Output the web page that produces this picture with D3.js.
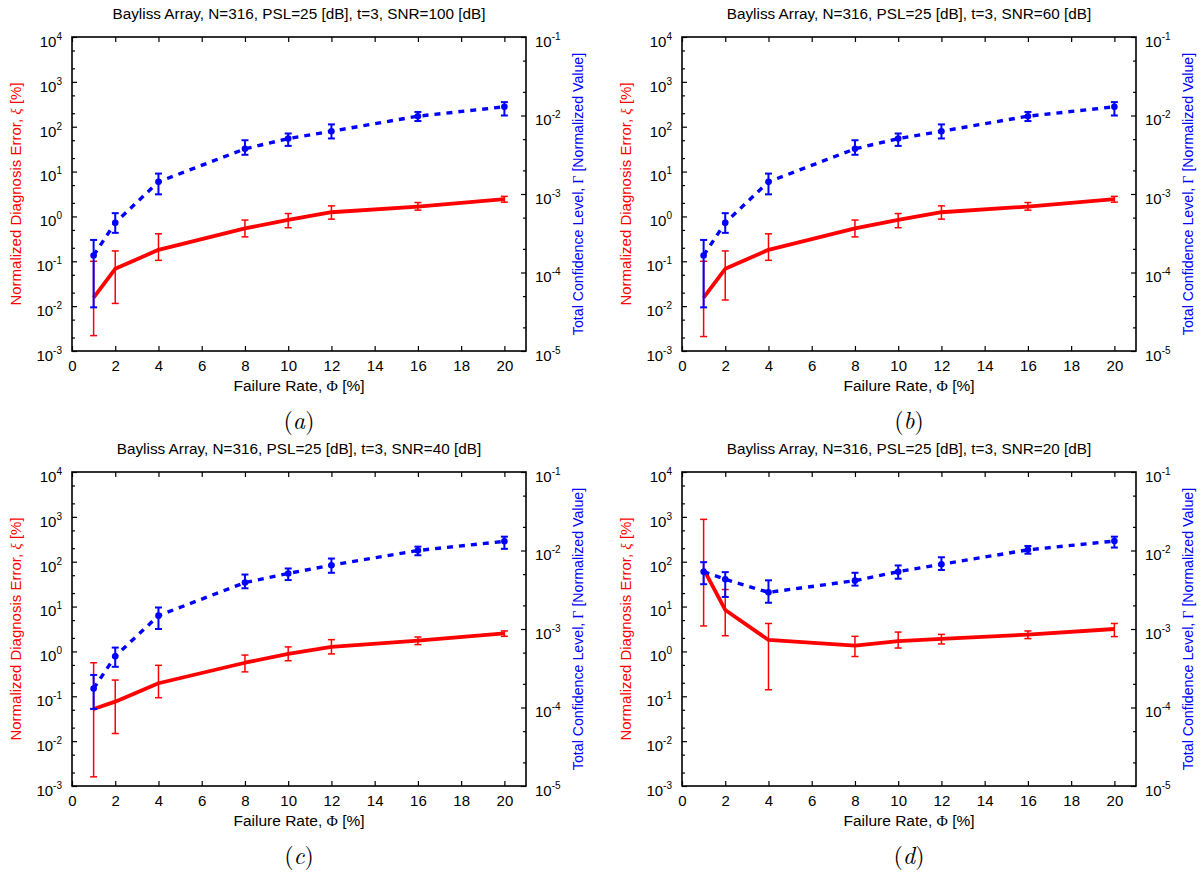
<!DOCTYPE html>
<html>
<head>
<meta charset="utf-8">
<script src="https://cdn.jsdelivr.net/npm/d3@7"></script>
<style>
body { margin: 0; background: #fff; }
svg { display: block; font-family: "Liberation Sans", Arial, sans-serif; }
</style>
</head>
<body>
<div class="container"></div>
<script>
// failure rate (x) values shared by all four panels
const failureRate = [1, 2, 4, 8, 10, 12, 16, 20];
const snrLevels = [100, 60, 40, 20];
const panelLetters = ["a", "b", "c", "d"];
const xTicks = [0, 2, 4, 6, 8, 10, 12, 14, 16, 18, 20];
const xiExponents = [-3, -2, -1, 0, 1, 2, 3, 4];
const gammaExponents = [-5, -4, -3, -2, -1];

// normalized diagnosis error xi [%], one row per panel
const xiMean = [
    [0.0155, 0.068, 0.18, 0.54, 0.84, 1.24, 1.66, 2.43],
    [0.0155, 0.068, 0.18, 0.54, 0.84, 1.24, 1.66, 2.43],
    [0.052, 0.076, 0.195, 0.56, 0.88, 1.26, 1.74, 2.54],
    [68, 8.4, 1.8, 1.35, 1.7, 1.9, 2.37, 3.16]
];
const xiLow = [
    [0.0022, 0.0115, 0.105, 0.35, 0.56, 0.87, 1.38, 2.08],
    [0.0021, 0.0137, 0.105, 0.35, 0.56, 0.87, 1.38, 2.08],
    [0.0016, 0.0148, 0.093, 0.35, 0.62, 0.88, 1.42, 2.17],
    [3.7, 2.24, 0.14, 0.77, 1.19, 1.47, 1.93, 2.14]
];
const xiHigh = [
    [0.1, 0.17, 0.41, 0.83, 1.16, 1.72, 2.04, 2.8],
    [0.1, 0.17, 0.41, 0.83, 1.16, 1.72, 2.04, 2.8],
    [0.56, 0.23, 0.49, 0.83, 1.26, 1.83, 2.1, 2.86],
    [880, 24, 4.2, 2.17, 2.7, 2.4, 2.86, 4.2]
];

// total confidence level gamma [normalized], one row per panel
const gammaMean = [
    [1.65e-4, 4.3e-4, 1.43e-3, 3.76e-3, 5.08e-3, 6.3e-3, 9.8e-3, 1.29e-2],
    [1.65e-4, 4.3e-4, 1.43e-3, 3.76e-3, 5.08e-3, 6.3e-3, 9.8e-3, 1.29e-2],
    [1.74e-4, 4.5e-4, 1.48e-3, 3.9e-3, 5.1e-3, 6.5e-3, 1.0e-2, 1.31e-2],
    [5.37e-3, 4.3e-3, 2.93e-3, 4.13e-3, 5.37e-3, 6.67e-3, 1.02e-2, 1.32e-2]
];
const gammaLow = [
    [3.6e-5, 3.2e-4, 9.9e-4, 3.16e-3, 4.1e-3, 5.1e-3, 8.5e-3, 1.0e-2],
    [3.6e-5, 3.2e-4, 9.9e-4, 3.16e-3, 4.1e-3, 5.1e-3, 8.5e-3, 1.0e-2],
    [9.6e-5, 3.3e-4, 1.0e-3, 3.3e-3, 4.2e-3, 5.2e-3, 8.7e-3, 1.05e-2],
    [3.72e-3, 2.56e-3, 2.16e-3, 3.57e-3, 4.37e-3, 5.65e-3, 9.1e-3, 1.09e-2]
];
const gammaHigh = [
    [2.6e-4, 5.7e-4, 1.82e-3, 4.84e-3, 5.9e-3, 7.7e-3, 1.11e-2, 1.48e-2],
    [2.6e-4, 5.7e-4, 1.82e-3, 4.84e-3, 5.9e-3, 7.7e-3, 1.11e-2, 1.48e-2],
    [2.6e-4, 5.8e-4, 1.88e-3, 4.94e-3, 5.9e-3, 7.9e-3, 1.12e-2, 1.5e-2],
    [7.1e-3, 5.3e-3, 4.17e-3, 5.2e-3, 6.45e-3, 8.2e-3, 1.14e-2, 1.5e-2]
];

var W = 1204, H = 881;
var plotW = 454, plotH = 314;
var origins = [[72, 37], [682, 37], [72, 472], [682, 472]];

var svg = d3.select(".container").append("svg")
    .attr("width", W)
    .attr("height", H);

function minorTicks(exps) {
    var out = [];
    exps.slice(0, -1).forEach(function (e) {
        out.push(2 * Math.pow(10, e), 5 * Math.pow(10, e));
    });
    return out;
}

// turn "10" labels into 10 with a superscript exponent
function supLabels(sel) {
    sel.selectAll(".tick text").each(function (d) {
        var t = d3.select(this);
        var e = Math.round(Math.log10(d));
        t.text(null);
        t.append("tspan").text("10");
        t.append("tspan").attr("dy", -7).attr("font-size", 10).text(e);
    });
}

function drawPanel(p) {
    var ox = origins[p][0], oy = origins[p][1];
    var g = svg.append("g").attr("transform", "translate(" + ox + "," + oy + ")");

    var x = d3.scaleLinear().domain([0, 21]).range([0, plotW]);
    var yXi = d3.scaleLog().domain([1e-3, 1e4]).range([plotH, 0]);
    var yGamma = d3.scaleLog().domain([1e-5, 1e-1]).range([plotH, 0]);

    // x axis, bottom and mirrored top
    var xb = g.append("g").attr("transform", "translate(0," + plotH + ")")
        .call(d3.axisBottom(x).tickValues(xTicks).tickSizeInner(-5).tickSizeOuter(0).tickPadding(9).tickFormat(d3.format("d")));
    g.append("g")
        .call(d3.axisTop(x).tickValues(xTicks).tickSizeInner(-5).tickSizeOuter(0).tickFormat(""));

    // left log axis (xi)
    g.append("g").call(d3.axisLeft(yXi).tickValues(minorTicks(xiExponents)).tickSizeInner(-3).tickSizeOuter(0).tickFormat(""));
    var yl = g.append("g").call(d3.axisLeft(yXi).tickValues(xiExponents.map(function (e) { return Math.pow(10, e); }))
        .tickSizeInner(-5).tickSizeOuter(0).tickPadding(10));
    supLabels(yl);

    // right log axis (gamma)
    var rg = g.append("g").attr("transform", "translate(" + plotW + ",0)");
    rg.append("g").call(d3.axisRight(yGamma).tickValues(minorTicks(gammaExponents)).tickSizeInner(-3).tickSizeOuter(0).tickFormat(""));
    var yr = rg.append("g").call(d3.axisRight(yGamma).tickValues(gammaExponents.map(function (e) { return Math.pow(10, e); }))
        .tickSizeInner(-5).tickSizeOuter(0).tickPadding(9));
    supLabels(yr);

    g.selectAll(".domain").remove();
    g.selectAll(".tick line").attr("stroke", "#000").attr("stroke-width", 1.2);
    g.selectAll(".tick text").attr("fill", "#000").attr("font-size", 15)
        .attr("font-family", "'Liberation Sans', Arial, sans-serif");
    yl.selectAll(".tick text").attr("dy", "0.62em");
    yr.selectAll(".tick text").attr("dy", "0.62em");
    xb.selectAll(".tick text").attr("dy", "0.71em");

    // frame
    g.append("rect")
        .attr("width", plotW).attr("height", plotH)
        .attr("fill", "none").attr("stroke", "#000").attr("stroke-width", 1.6);

    var pts = failureRate.map(function (f, i) {
        return {
            x: f,
            xi: xiMean[p][i], xiLo: xiLow[p][i], xiHi: xiHigh[p][i],
            ga: gammaMean[p][i], gaLo: gammaLow[p][i], gaHi: gammaHigh[p][i]
        };
    });

    // xi series: red solid line with error bars
    var xiLine = d3.line()
        .x(function (d) { return x(d.x); })
        .y(function (d) { return yXi(d.xi); });
    var red = g.append("g");
    red.selectAll("line.bar").data(pts).enter().append("line")
        .attr("x1", function (d) { return x(d.x); }).attr("x2", function (d) { return x(d.x); })
        .attr("y1", function (d) { return yXi(d.xiLo); }).attr("y2", function (d) { return yXi(d.xiHi); })
        .attr("stroke", "#f00").attr("stroke-width", 1.5);
    ["xiLo", "xiHi"].forEach(function (k) {
        red.selectAll("line." + k).data(pts).enter().append("line")
            .attr("x1", function (d) { return x(d.x) - 3.5; }).attr("x2", function (d) { return x(d.x) + 3.5; })
            .attr("y1", function (d) { return yXi(d[k]); }).attr("y2", function (d) { return yXi(d[k]); })
            .attr("stroke", "#f00").attr("stroke-width", 1.5);
    });
    red.append("path").datum(pts)
        .attr("d", xiLine)
        .attr("fill", "none").attr("stroke", "#f00").attr("stroke-width", 3.8)
        .attr("stroke-linejoin", "round");

    // gamma series: blue dashed line with error bars and dots
    var gaLine = d3.line()
        .x(function (d) { return x(d.x); })
        .y(function (d) { return yGamma(d.ga); });
    var blue = g.append("g");
    blue.append("path").datum(pts)
        .attr("d", gaLine)
        .attr("fill", "none").attr("stroke", "#00f").attr("stroke-width", 3.4)
        .attr("stroke-dasharray", "6,6");
    blue.selectAll("line.bar").data(pts).enter().append("line")
        .attr("x1", function (d) { return x(d.x); }).attr("x2", function (d) { return x(d.x); })
        .attr("y1", function (d) { return yGamma(d.gaLo); }).attr("y2", function (d) { return yGamma(d.gaHi); })
        .attr("stroke", "#00f").attr("stroke-width", 2);
    ["gaLo", "gaHi"].forEach(function (k) {
        blue.selectAll("line." + k).data(pts).enter().append("line")
            .attr("x1", function (d) { return x(d.x) - 3.5; }).attr("x2", function (d) { return x(d.x) + 3.5; })
            .attr("y1", function (d) { return yGamma(d[k]); }).attr("y2", function (d) { return yGamma(d[k]); })
            .attr("stroke", "#00f").attr("stroke-width", 2);
    });
    blue.selectAll("circle").data(pts).enter().append("circle")
        .attr("cx", function (d) { return x(d.x); })
        .attr("cy", function (d) { return yGamma(d.ga); })
        .attr("r", 3.3).attr("fill", "#00f");

    // texts
    g.append("text")
        .attr("x", plotW / 2).attr("y", -18)
        .attr("text-anchor", "middle").attr("font-size", 15.3)
        .text("Bayliss Array, N=316, PSL=25 [dB], t=3, SNR=" + snrLevels[p] + " [dB]");

    var xt = g.append("text")
        .attr("x", plotW / 2).attr("y", plotH + 40)
        .attr("text-anchor", "middle").attr("font-size", 15.5);
    xt.append("tspan").text("Failure Rate, ");
    xt.append("tspan").attr("font-family", "'Liberation Serif', serif").text("Φ");
    xt.append("tspan").text(" [%]");

    var lt = g.append("text")
        .attr("transform", "translate(-51," + plotH / 2 + ") rotate(-90)")
        .attr("text-anchor", "middle").attr("font-size", 15).attr("fill", "#f00");
    lt.append("tspan").text("Normalized Diagnosis Error, ");
    lt.append("tspan").attr("font-family", "'Liberation Serif', serif").attr("font-style", "italic").text("ξ");
    lt.append("tspan").text(" [%]");

    var rt = g.append("text")
        .attr("transform", "translate(" + (plotW + 57) + "," + plotH / 2 + ") rotate(-90)")
        .attr("text-anchor", "middle").attr("font-size", 14.2).attr("fill", "#00f");
    rt.append("tspan").text("Total Confidence Level, ");
    rt.append("tspan").attr("font-family", "'Liberation Serif', serif").text("Γ");
    rt.append("tspan").text(" [Normalized Value]");

    var pl = g.append("text")
        .attr("x", plotW / 2).attr("y", plotH + 78)
        .attr("text-anchor", "middle").attr("font-size", 24)
        .attr("font-family", "'Latin Modern Roman', 'Liberation Serif', serif");
    pl.append("tspan").text("(");
    pl.append("tspan").attr("font-style", "italic").text(panelLetters[p]);
    pl.append("tspan").text(")");
}

for (var p = 0; p < 4; p++) drawPanel(p);
</script>
</body>
</html>
